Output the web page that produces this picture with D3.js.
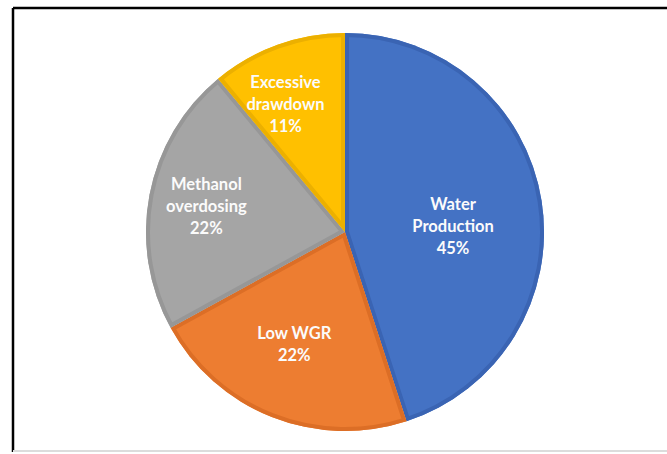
<!DOCTYPE html>
<html>
<head>
<meta charset="utf-8">
<script src="https://cdn.jsdelivr.net/npm/d3@7"></script>
<style>
  html, body { margin: 0; padding: 0; background: #fff; }
  svg { display: block; }
</style>
</head>
<body>
<svg id="chart" width="667" height="454"></svg>
<script>
// Causes and their shares (percent)
const categories = ["Water Production", "Low WGR", "Methanol overdosing", "Excessive drawdown"];
const values = [45, 22, 22, 11];
const labelLines = [["Water", "Production"], ["Low WGR"], ["Methanol", "overdosing"], ["Excessive", "drawdown"]];
const fills = ["#4472C4", "#ED7D31", "#A5A5A5", "#FFC000"];
const edges = ["#3A64B3", "#DC6E26", "#979797", "#ECB000"];

const svg = d3.select("#chart");
const W = 667, H = 454;
const cx = 345, cy = 232, R = 199;

// Frame
svg.append("line").attr("x1", 13).attr("y1", 8).attr("x2", W).attr("y2", 8)
  .attr("stroke", "#000").attr("stroke-width", 2.5);
svg.append("line").attr("x1", 13).attr("y1", 8).attr("x2", 13).attr("y2", 452)
  .attr("stroke", "#000").attr("stroke-width", 2.5);
svg.append("line").attr("x1", 13).attr("y1", 451).attr("x2", W).attr("y2", 451)
  .attr("stroke", "#dcdcdc").attr("stroke-width", 2);

const data = categories.map((c, i) => ({ name: c, value: values[i], lines: labelLines[i], i }));

const pie = d3.pie().value(d => d.value).sort(null);
const arcs = pie(data);
const arc = d3.arc().innerRadius(0).outerRadius(R);

const g = svg.append("g").attr("transform", `translate(${cx},${cy})`);
const defs = svg.append("defs");

arcs.forEach((a, k) => {
  defs.append("clipPath").attr("id", "clip" + k)
    .append("path").attr("d", arc(a));
});

const slices = g.selectAll("g.slice").data(arcs).enter().append("g").attr("class", "slice");

slices.append("path")
  .attr("d", arc)
  .attr("fill", d => fills[d.data.i]);

// Darker inner edge on each slice
slices.append("path")
  .attr("d", arc)
  .attr("fill", "none")
  .attr("stroke", d => edges[d.data.i])
  .attr("stroke-width", 8)
  .attr("stroke-linejoin", "round")
  .attr("clip-path", (d, k) => `url(#clip${k})`);

// Label anchor: point on the slice bisector, then a small nudge
const labelRadius = [0.56, 0.57, 0.74, 0.72];
const labelShift = [[-2, 12], [-9, 8], [6, 3], [-11, 8]];
const lineH = 22;

slices.each(function (d, k) {
  const mid = (d.startAngle + d.endAngle) / 2;
  const r = R * labelRadius[k];
  const x = Math.sin(mid) * r + labelShift[k][0];
  const y = -Math.cos(mid) * r + labelShift[k][1];
  const lines = d.data.lines.concat([d.data.value + "%"]);
  const t = d3.select(this).append("text")
    .attr("text-anchor", "middle")
    .attr("font-family", "Lato, 'Open Sans', sans-serif")
    .attr("font-weight", "bold")
    .attr("font-size", 16.5)
    .attr("fill", "#fbfbfb");
  const y0 = y - (lines.length - 1) * lineH / 2 + 5;
  lines.forEach((s, j) => {
    t.append("tspan").attr("x", x).attr("y", y0 + j * lineH).text(s);
  });
});
</script>
</body>
</html>
